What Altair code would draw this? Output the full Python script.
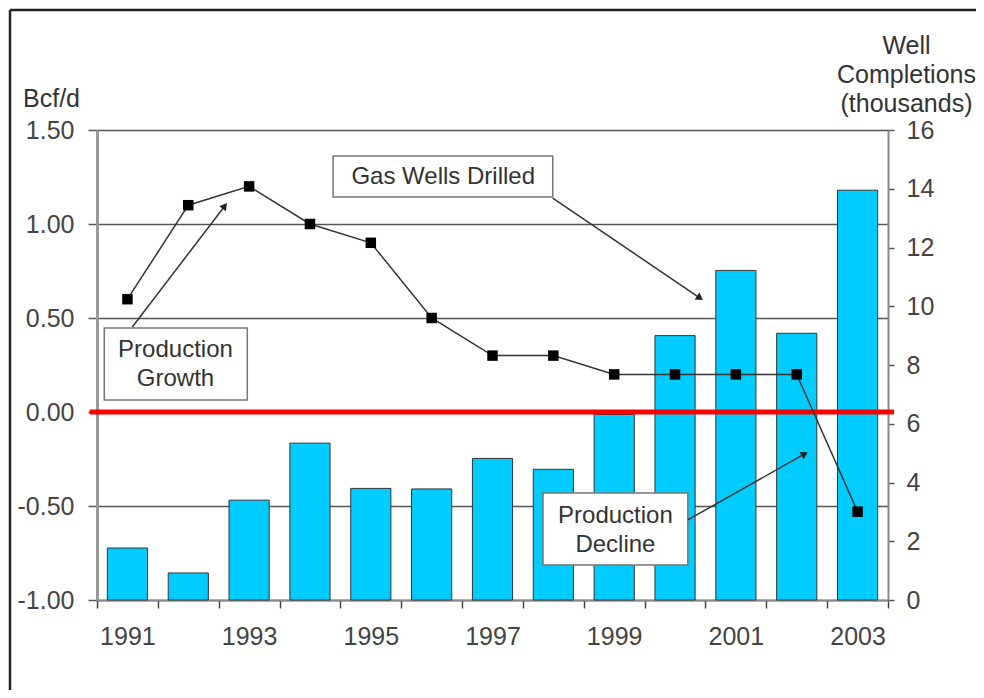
import altair as alt
import pandas as pd

# ---- data ----
years = list(range(1991, 2004))
wells = [1.77, 0.92, 3.40, 5.34, 3.80, 3.78, 4.82, 4.45, 6.32, 9.00, 11.22, 9.08, 13.95]   # thousands
bcf = [0.60, 1.10, 1.20, 1.00, 0.90, 0.50, 0.30, 0.30, 0.20, 0.20, 0.20, 0.20, -0.53]       # Bcf/d

box_x0 = [1994.38, 1990.62, 1997.83]
box_x1 = [1997.99, 1992.97, 2000.21]
box_y0 = [1.144, 0.064, -0.814]
box_y1 = [1.362, 0.447, -0.431]

text_labels = ["Gas Wells Drilled", "Production", "Growth", "Production", "Decline"]
text_x = [1996.19, 1991.79, 1991.79, 1999.02, 1999.02]
text_y = [1.25, 0.33, 0.175, -0.553, -0.707]

arrow_x0 = [1997.99, 1991.08, 2000.21]
arrow_y0 = [1.138, 0.452, -0.574]
arrow_x1 = [2000.41, 1992.60, 2002.13]
arrow_y1 = [0.606, 1.096, -0.223]
arrow_ang = [124.2, 37.5, 60.6]

W, H = 791, 470
FONT = "Liberation Sans"

df = pd.DataFrame({"year": years, "wells": wells, "bcf": bcf})
box_df = pd.DataFrame({"x0": box_x0, "x1": box_x1, "y0": box_y0, "y1": box_y1})
text_df = pd.DataFrame({"label": text_labels, "x": text_x, "y": text_y})
arrow_df = pd.DataFrame({"x0": arrow_x0, "y0": arrow_y0, "x1": arrow_x1, "y1": arrow_y1, "ang": arrow_ang})
zero_df = pd.DataFrame({"x0": [1990.38], "x1": [2003.6], "y": [0.0]})

xscale = alt.Scale(domain=[1990.5, 2003.5], nice=False, zero=False)
yl_scale = alt.Scale(domain=[-1.0, 1.5], nice=False, zero=False)
yr_scale = alt.Scale(domain=[0, 16], nice=False, zero=True)

x_axis = alt.Axis(
    values=[1990.5 + i for i in range(14)],
    labelExpr="(datum.value + 0.5) % 2 == 1 && datum.value < 2003 ? format(datum.value + 0.5, 'd') : ''",
    labelOffset=30.4, labelFlush=False, labelOverlap=False,
    title=None, grid=False, tickSize=8, tickColor="#444", tickWidth=1.5,
    domainColor="#888", domainWidth=2, labelPadding=16,
    labelFontSize=25, labelColor="#444", labelFont=FONT,
)

yl_axis = alt.Axis(
    orient="left", values=[-1.0, -0.5, 0.0, 0.5, 1.0, 1.5],
    labelExpr="datum.value < 0 ? '-' + format(-datum.value, '.2f') : format(datum.value, '.2f')",
    grid=True, gridColor="#555", gridWidth=1.5,
    tickSize=9, tickColor="#555", tickWidth=1.5,
    domainColor="#999", domainWidth=3, labelPadding=14,
    labelFontSize=25, labelColor="#444", labelFont=FONT,
    title="Bcf/d", titleAngle=0, titleX=-46, titleY=-24, titleAlign="center",
    titleBaseline="alphabetic", titleFontSize=25, titleFontWeight="normal",
    titleColor="#333", titleFont=FONT,
)

yr_axis = alt.Axis(
    orient="right", values=list(range(0, 17, 2)), grid=False,
    tickSize=6, tickColor="#555", tickWidth=1.5,
    domainColor="#888", domainWidth=2, labelPadding=12,
    labelFontSize=25, labelColor="#444", labelFont=FONT,
    title=["Well", "Completions", "(thousands)"], titleAngle=0, titleX=18, titleY=-77,
    titleAlign="center", titleBaseline="alphabetic", titleLineHeight=29,
    titleFontSize=25, titleFontWeight="normal", titleColor="#333", titleFont=FONT,
)

bars = alt.Chart(df).transform_calculate(
    x0="datum.year - 0.33", x1="datum.year + 0.33"
).mark_bar(color="#00CCFF", stroke="#333", strokeWidth=1).encode(
    x=alt.X("x0:Q", scale=xscale, axis=x_axis),
    x2="x1:Q",
    y=alt.Y("wells:Q", scale=yr_scale, axis=yr_axis, stack=None),
    y2=alt.datum(0),
)

red = alt.Chart(zero_df).mark_rule(color="#FF0000", strokeWidth=5).encode(
    x=alt.X("x0:Q", scale=xscale, axis=x_axis), x2="x1:Q",
    y=alt.Y("y:Q", scale=yl_scale, axis=yl_axis),
)

line = alt.Chart(df).mark_line(color="#333", strokeWidth=1.5).encode(
    x=alt.X("year:Q", scale=xscale, axis=x_axis),
    y=alt.Y("bcf:Q", scale=yl_scale, axis=yl_axis),
)

pts = alt.Chart(df).mark_point(shape="square", filled=True, size=110, color="#000", opacity=1).encode(
    x=alt.X("year:Q", scale=xscale, axis=x_axis),
    y=alt.Y("bcf:Q", scale=yl_scale, axis=yl_axis),
)

boxes = alt.Chart(box_df).mark_rect(fill="white", stroke="#777", strokeWidth=1.5).encode(
    x=alt.X("x0:Q", scale=xscale, axis=x_axis), x2="x1:Q",
    y=alt.Y("y0:Q", scale=yl_scale, axis=yl_axis), y2="y1:Q",
)

texts = alt.Chart(text_df).mark_text(
    fontSize=24, color="#333", baseline="middle", align="center", font=FONT
).encode(
    x=alt.X("x:Q", scale=xscale, axis=x_axis),
    y=alt.Y("y:Q", scale=yl_scale, axis=yl_axis),
    text="label:N",
)

arrows = alt.Chart(arrow_df).mark_rule(color="#333", strokeWidth=1.5).encode(
    x=alt.X("x0:Q", scale=xscale, axis=x_axis), x2="x1:Q",
    y=alt.Y("y0:Q", scale=yl_scale, axis=yl_axis), y2="y1:Q",
)

heads = alt.Chart(arrow_df).mark_point(shape="triangle-up", filled=True, size=70, color="#222", opacity=1).encode(
    x=alt.X("x1:Q", scale=xscale, axis=x_axis),
    y=alt.Y("y1:Q", scale=yl_scale, axis=yl_axis),
    angle=alt.Angle("ang:Q", scale=None),
)

frame_top = alt.Chart(pd.DataFrame({"a": [0]})).mark_rule(color="#222", strokeWidth=2.5).encode(
    x=alt.value(-87), x2=alt.value(W + 88), y=alt.value(-120)
)
frame_left = alt.Chart(pd.DataFrame({"a": [0]})).mark_rule(color="#222", strokeWidth=2.5).encode(
    x=alt.value(-87), y=alt.value(-120), y2=alt.value(H + 90)
)

left = alt.layer(red, line, pts, boxes, texts, arrows, heads, frame_top, frame_left)

chart = alt.layer(bars, left).resolve_scale(y="independent").properties(
    width=W, height=H,
    autosize=alt.AutoSizeParams(type="none"),
    padding={"left": 89, "top": 122, "right": 88, "bottom": 90},
).configure_view(stroke=None).configure(font=FONT, background="white")

chart.save("out.html", embed_options={"renderer": "svg", "actions": False})
